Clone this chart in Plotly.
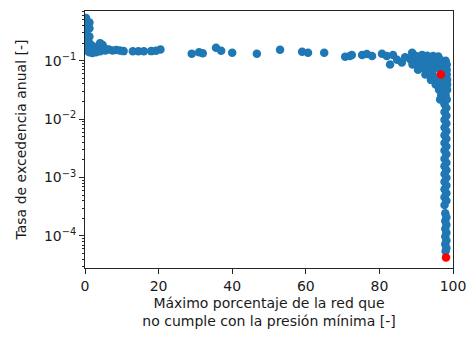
import plotly.graph_objects as go

# ---- data ----
# left cluster near 0 %
left_x = [0.3, 0.3, 0.3, 0.3, 0.3, 0.3, 0.3, 0.3, 0.3, 0.3, 0.3, 0.3,
          1.2, 1.2, 1.2, 1.2, 1.2, 1.2, 2.0, 2.0, 2.0, 3.0, 3.0,
          4.1, 4.1, 4.1, 4.8, 5.5, 5.5, 6.5, 7.5, 8.5, 9.5, 10.5,
          13.0, 14.5, 16.0, 18.0, 19.3, 20.5]
left_y = [0.54, 0.48, 0.43, 0.38, 0.34, 0.30, 0.27, 0.24, 0.21, 0.19, 0.17, 0.15,
          0.45, 0.36, 0.26, 0.20, 0.16, 0.14, 0.18, 0.15, 0.135, 0.16, 0.14,
          0.20, 0.17, 0.145, 0.185, 0.16, 0.15, 0.155, 0.15, 0.152, 0.15, 0.146,
          0.145, 0.145, 0.145, 0.146, 0.148, 0.155]

# sparse middle points
mid_x = [29.0, 31.0, 32.0, 35.6, 37.0, 40.0, 46.7, 53.0, 59.0, 60.6, 65.0,
         70.7, 72.0, 72.5, 75.3, 76.6, 78.0, 80.7, 82.0, 82.9, 83.7, 84.8, 86.1, 87.0]
mid_y = [0.132, 0.140, 0.134, 0.166, 0.148, 0.137, 0.132, 0.154, 0.142, 0.137, 0.137,
         0.117, 0.120, 0.125, 0.125, 0.130, 0.120, 0.132, 0.120, 0.086, 0.125, 0.104, 0.093, 0.115]

# dense tail cluster near 90-98 %
tail_x = [88.9, 88.9, 90.0, 91.6, 93.0, 94.6, 96.0,
          88.5, 90.5, 92.5, 94.5, 96.5, 98.0,
          89.0, 91.0, 93.0, 95.0, 97.0, 98.3,
          90.5, 92.5, 94.5, 96.5, 98.3,
          92.5, 94.5, 98.3,
          94.0, 95.8, 97.6, 98.4,
          95.3, 97.0, 98.4,
          96.2, 97.6, 98.4,
          96.8, 98.0,
          96.5, 97.2, 98.3]
tail_y = [0.137, 0.115, 0.120, 0.125, 0.122, 0.120, 0.118,
          0.104, 0.104, 0.100, 0.104, 0.104, 0.100,
          0.086, 0.086, 0.086, 0.086, 0.086, 0.086,
          0.070, 0.070, 0.070, 0.070, 0.070,
          0.058, 0.058, 0.058,
          0.047, 0.047, 0.047, 0.047,
          0.039, 0.039, 0.039,
          0.032, 0.032, 0.032,
          0.026, 0.026,
          0.0216, 0.0216, 0.0216]

# vertical column near 98 %
col_x = [97.7, 98.2, 97.7, 98.2, 97.7, 98.2, 97.7, 98.2, 97.7, 98.2,
         97.7, 98.2, 97.7, 98.2, 97.7, 98.2, 97.7, 98.2, 97.7, 98.2,
         97.7, 98.2, 97.7, 98.2, 97.7, 98.2, 97.7,
         97.9, 98.2, 97.9, 98.2, 97.9, 98.2, 97.9, 98.2, 97.9, 98.2, 98.0]
col_y = [0.018, 0.0155, 0.0133, 0.0114, 0.0098, 0.0084, 0.0072, 0.0062, 0.0053, 0.0046,
         0.0039, 0.0034, 0.0029, 0.0025, 0.0021, 0.0018, 0.00156, 0.00134, 0.00115, 0.00099,
         0.00085, 0.00073, 0.00063, 0.00054, 0.00046, 0.0004, 0.00034,
         0.000245, 0.00021, 0.00018, 0.000155, 0.000133, 0.000114, 0.000098, 0.000084,
         0.000072, 0.000062, 0.000055]

# highlighted points
red_x = [96.7, 98.1]
red_y = [0.058, 0.000043]

y_tick_vals = [1e-4, 1e-3, 1e-2, 1e-1]
y_tick_text = ["10<sup>−4</sup>", "10<sup>−3</sup>", "10<sup>−2</sup>", "10<sup>−1</sup>"]
x_tick_vals = [0, 20, 40, 60, 80, 100]

blue_x = left_x + mid_x + tail_x + col_x
blue_y = left_y + mid_y + tail_y + col_y

minor_vals = [m * 10.0 ** e for e in range(-5, 0) for m in range(2, 10)]

font = "DejaVu Sans, Liberation Sans, sans-serif"

fig = go.Figure()
fig.add_trace(go.Scatter(x=blue_x, y=blue_y, mode="markers",
                         marker=dict(color="#1f77b4", size=8.5, line=dict(width=0)),
                         showlegend=False))
fig.add_trace(go.Scatter(x=red_x, y=red_y, mode="markers",
                         marker=dict(color="#ff0000", size=8.5, line=dict(width=0)),
                         showlegend=False))

fig.update_layout(
    width=468, height=340,
    margin=dict(l=85, r=15, t=11, b=72, autoexpand=False),
    paper_bgcolor="white", plot_bgcolor="white",
    font=dict(family=font, size=14, color="#1a1a1a"),
    xaxis=dict(
        range=[0, 100], tickmode="array", tickvals=x_tick_vals,
        ticks="outside", ticklen=5, tickwidth=1, tickcolor="#262626",
        showline=True, linecolor="#262626", linewidth=1, mirror=True,
        showgrid=False, zeroline=False, automargin=False,
        title=dict(text="Máximo porcentaje de la red que<br>no cumple con la presión mínima [-]",
                   font=dict(size=14), standoff=5),
    ),
    yaxis=dict(
        type="log", range=[-4.548, -0.149],
        tickmode="array", tickvals=y_tick_vals, ticktext=y_tick_text,
        ticks="outside", ticklen=5, tickwidth=1, tickcolor="#262626",
        minor=dict(tickmode="array", tickvals=minor_vals, ticks="outside",
                   ticklen=2.5, tickwidth=0.7, tickcolor="#262626"),
        showline=True, linecolor="#262626", linewidth=1, mirror=True,
        showgrid=False, zeroline=False, automargin=False,
        title=dict(text="Tasa de excedencia anual [-]", font=dict(size=14), standoff=14),
    ),
)

fig.write_html("out.html")
